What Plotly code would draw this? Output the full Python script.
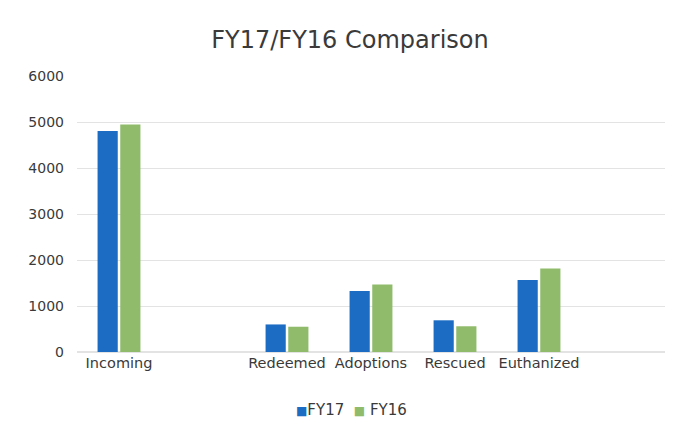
import plotly.graph_objects as go

categories = ["Incoming", " ", "Redeemed", "Adoptions", "Rescued", "Euthanized", "  "]
fy17 = [4810, None, 600, 1330, 690, 1570, None]
fy16 = [4950, None, 550, 1470, 560, 1820, None]
y_ticks = [0, 1000, 2000, 3000, 4000, 5000, 6000]
series_names = ["FY17", "FY16"]

BLUE = "#1b6cc2"
GREEN = "#8fbb6b"
TEXT = "#3a3a3a"
FONT = "DejaVu Sans"

fig = go.Figure()
fig.add_trace(go.Bar(name=series_names[0], x=categories, y=fy17, marker=dict(color=BLUE, line=dict(width=0))))
fig.add_trace(go.Bar(name=series_names[1], x=categories, y=fy16, marker=dict(color=GREEN, line=dict(width=0))))

legend_text = (f"<span style='color:{BLUE};font-size:12px'>■</span>{series_names[0]}  "
               f"<span style='color:{GREEN};font-size:12px'>■</span> {series_names[1]}")

plot_h = 438 - 76 - 86
plot_w = 673 - 77 - 8

fig.update_layout(
    width=673, height=438,
    margin=dict(l=77, r=8, t=76, b=86),
    paper_bgcolor="white", plot_bgcolor="white",
    barmode="group", bargap=0.46, bargroupgap=0.11,
    showlegend=False,
    title=dict(text="FY17/FY16 Comparison", x=350 / 673, xanchor="center", y=1 - 40 / 438, yanchor="middle",
               font=dict(family=FONT, size=24, color=TEXT)),
    font=dict(family=FONT, size=14, color=TEXT),
    annotations=[dict(text=legend_text, x=(351.5 - 77) / plot_w, xref="paper", xanchor="center",
                      y=(352 - 410) / plot_h, yref="paper", yanchor="middle", showarrow=False,
                      font=dict(family=FONT, size=15, color=TEXT))],
    xaxis=dict(type="category", categoryorder="array", categoryarray=categories,
               showgrid=False, showline=False, ticks="", automargin=False,
               tickfont=dict(size=14.5, color=TEXT)),
    yaxis=dict(range=[0, 6008], tickvals=y_ticks, showgrid=True, gridcolor="#e3e3e3", gridwidth=1,
               zeroline=True, zerolinecolor="#e3e3e3", showline=False, ticks="", ticklabelstandoff=12,
               automargin=False, tickfont=dict(size=14, color=TEXT)),
)

fig.write_html("out.html", config={"displayModeBar": False},
               post_script="document.body.style.margin='0';")
